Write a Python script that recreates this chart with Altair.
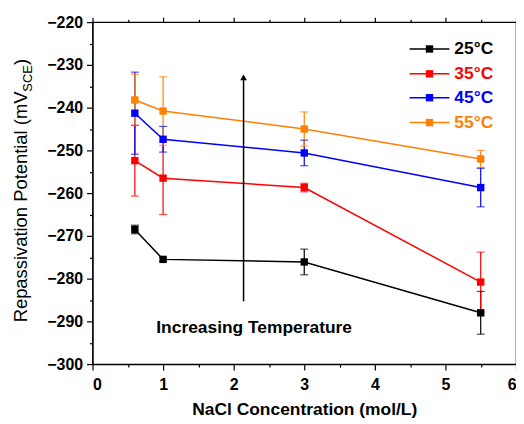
import altair as alt
import pandas as pd

# ---- data ----
conc = [0.6, 1.0, 3.0, 5.5]
series_names = ["25°C", "35°C", "45°C", "55°C"]
colors = ["#000000", "#FF0000", "#0000FF", "#FF8000"]
pot_25 = [-268.5, -275.5, -276.1, -288.0]
err_25 = [1.0, 0.5, 3.0, 5.0]
pot_35 = [-252.4, -256.5, -258.7, -280.8]
err_35 = [8.3, 8.5, 1.0, 7.0]
pot_45 = [-241.3, -247.4, -250.6, -258.7]
err_45 = [9.6, 3.0, 3.0, 4.5]
pot_55 = [-238.2, -240.8, -245.0, -252.0]
err_55 = [6.0, 8.0, 4.0, 2.0]

x_ticks = [0, 1, 2, 3, 4, 5, 6]
x_minor = [0.5, 1.5, 2.5, 3.5, 4.5, 5.5]
y_ticks = [-300, -290, -280, -270, -260, -250, -240, -230, -220]
y_minor = [-295, -285, -275, -265, -255, -245, -235, -225]

arrow_x = [2.14]
arrow_y = [-285.3]
arrow_y2 = [-232.9]
note_text = ["Increasing Temperature"]
note_x = [2.29]
note_y = [-291.6]

rows = []
for name, pots, errs in zip(series_names, [pot_25, pot_35, pot_45, pot_55],
                            [err_25, err_35, err_45, err_55]):
    for c, p, e in zip(conc, pots, errs):
        rows.append({"conc": c, "pot": p, "series": name, "lo": p - e, "hi": p + e})
df = pd.DataFrame(rows)

W, H = 426, 344
FONT = "Liberation Sans"

xs = alt.Scale(domain=[0, 6], nice=False, zero=False)
ys = alt.Scale(domain=[-300, -220], nice=False, zero=False)
cs = alt.Scale(domain=series_names, range=colors)

X = alt.X("conc:Q", scale=xs,
          axis=alt.Axis(values=x_ticks, format="d", title="NaCl Concentration (mol/L)",
                        grid=False, tickSize=6, labelPadding=7, titlePadding=8,
                        labelFont=FONT, labelFontSize=16, labelFontWeight="bold",
                        titleFont=FONT, titleFontSize=17.5, titleFontWeight="bold",
                        labelColor="black", titleColor="black", domainColor="black",
                        tickColor="black", domainWidth=1.2, tickWidth=1.2))
Y = alt.Y("pot:Q", scale=ys,
          axis=alt.Axis(values=y_ticks, format="d", title=None, grid=False, tickSize=6,
                        labelPadding=4,
                        labelFont=FONT, labelFontSize=16, labelFontWeight="bold",
                        labelColor="black", domainColor="black", tickColor="black",
                        domainWidth=1.2, tickWidth=1.2))
C = alt.Color("series:N", scale=cs, legend=None)

base = alt.Chart(df)
lines = base.mark_line(strokeWidth=1.5).encode(x=X, y=Y, color=C, detail="series:N")
errs = base.mark_rule(strokeWidth=1.2).encode(x=X, y=alt.Y("lo:Q", scale=ys), y2="hi:Q", color=C)
cap_lo = base.mark_tick(thickness=1.2, size=8, orient="horizontal").encode(
    x=X, y=alt.Y("lo:Q", scale=ys), color=C)
cap_hi = base.mark_tick(thickness=1.2, size=8, orient="horizontal").encode(
    x=X, y=alt.Y("hi:Q", scale=ys), color=C)
pts = base.mark_square(size=55, opacity=1).encode(x=X, y=Y, color=C)

adf = pd.DataFrame({"conc": arrow_x, "pot": arrow_y, "pot2": arrow_y2})
arrow = alt.Chart(adf).mark_rule(strokeWidth=1.5, color="black").encode(
    x=alt.X("conc:Q", scale=xs), y=alt.Y("pot:Q", scale=ys), y2="pot2:Q")
head = alt.Chart(adf).mark_point(shape="triangle-up", filled=True, size=45, color="black",
                                 opacity=1).encode(
    x=alt.X("conc:Q", scale=xs), y=alt.Y("pot2:Q", scale=ys))

ndf = pd.DataFrame({"conc": note_x, "pot": note_y, "t": note_text})
note = alt.Chart(ndf).mark_text(font=FONT, fontSize=17.5, fontWeight="bold",
                                color="black").encode(
    x=alt.X("conc:Q", scale=xs), y=alt.Y("pot:Q", scale=ys), text="t:N")

# legend (pixel positions inside the plot area)
leg_y = [27, 52, 76, 101]
ldf = pd.DataFrame({"series": series_names, "ly": leg_y})
lbase = alt.Chart(ldf)
leg_line = lbase.mark_rule(strokeWidth=1.5).encode(
    x=alt.value(319), x2=alt.value(359), y=alt.Y("ly:Q", scale=None), color=C)
leg_pt = lbase.mark_square(size=55, opacity=1).encode(
    x=alt.value(339), y=alt.Y("ly:Q", scale=None), color=C)
leg_txt = lbase.mark_text(align="left", baseline="middle", font=FONT, fontSize=17.5,
                          fontWeight="bold").encode(
    x=alt.value(364), y=alt.Y("ly:Q", scale=None), text="series:N", color=C)

# y-axis title with subscript
tdf = pd.DataFrame({"a": [0]})
yt1 = alt.Chart(tdf).mark_text(text="Repassivation Potential (mV", angle=270, align="left",
                               baseline="middle", font=FONT, fontSize=18.5,
                               color="black").encode(
    x=alt.value(-72), y=alt.value(302))
yt2 = alt.Chart(tdf).mark_text(text="SCE", angle=270, align="left", baseline="middle",
                               font=FONT, fontSize=13, color="black").encode(
    x=alt.value(-65), y=alt.value(70))
yt3 = alt.Chart(tdf).mark_text(text=")", angle=270, align="left", baseline="middle",
                               font=FONT, fontSize=18.5, color="black").encode(
    x=alt.value(-72), y=alt.value(43))

main = alt.layer(lines, errs, cap_lo, cap_hi, pts, arrow, head, note,
                 leg_line, leg_pt, leg_txt, yt1, yt2, yt3)

# mirrored / minor tick layers
def tick_layer(xvals, yvals, xorient, yorient, size):
    d = pd.DataFrame({"conc": [0], "pot": [-300]})
    return alt.Chart(d).mark_point(opacity=0).encode(
        x=alt.X("conc:Q", scale=xs,
                axis=alt.Axis(values=xvals, orient=xorient, labels=False, title=None,
                              domain=False, grid=False, tickSize=size, tickWidth=1.2,
                              tickColor="black")),
        y=alt.Y("pot:Q", scale=ys,
                axis=alt.Axis(values=yvals, orient=yorient, labels=False, title=None,
                              domain=False, grid=False, tickSize=size, tickWidth=1.2,
                              tickColor="black")))

t_major = tick_layer(x_ticks, y_ticks, "top", "right", 5)
t_minor = tick_layer(x_minor, y_minor, "bottom", "left", 3)
t_minor2 = tick_layer(x_minor, y_minor, "top", "right", 3)

chart = alt.layer(main, t_major, t_minor, t_minor2).resolve_scale(
    x="independent", y="independent").properties(
    width=W, height=H,
    autosize=alt.AutoSizeParams(type="none"),
    padding={"left": 85, "top": 13, "right": 0, "bottom": 56},
    background="white",
).configure_view(stroke="black", strokeWidth=1.2)

chart.save("out.html", embed_options={"renderer": "svg", "actions": False})
